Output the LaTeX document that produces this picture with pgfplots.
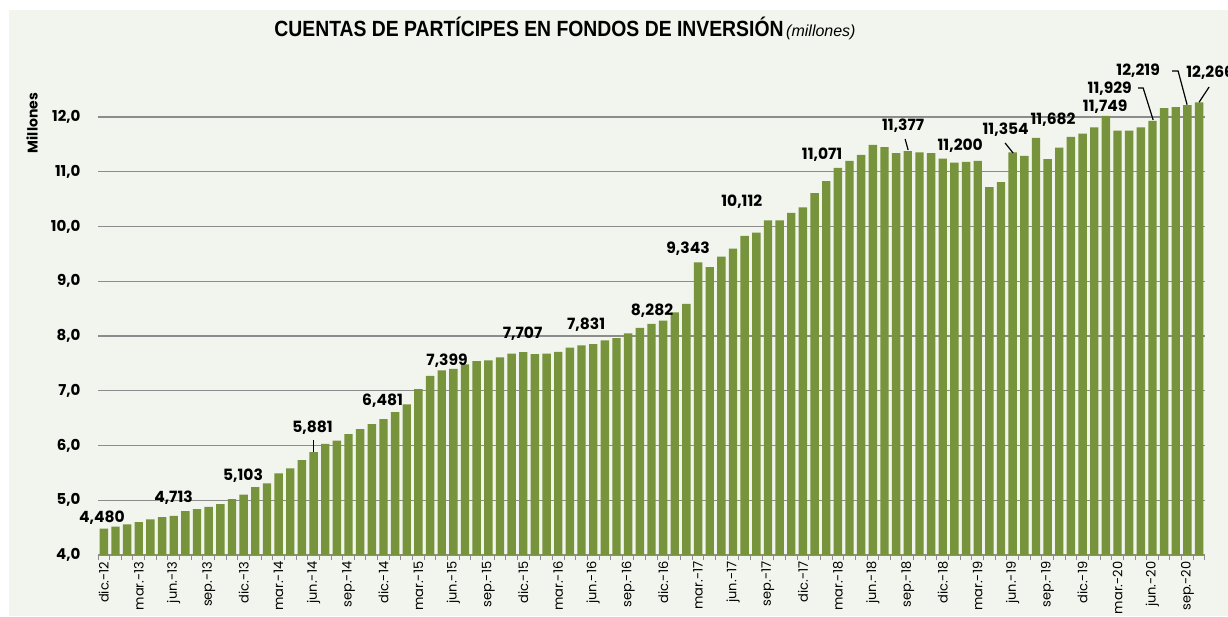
\documentclass[border=0pt]{standalone}
\usepackage{pgfplots}
\pgfplotsset{compat=1.18}
\usepackage{fontspec}
\setmainfont{Poppins}
\newfontfamily\titlefont[FakeStretch=0.88]{Liberation Sans}
\newfontfamily\titleit{Liberation Sans}
\definecolor{barc}{RGB}{119,147,60}
\definecolor{panel}{RGB}{242,245,237}
\definecolor{gridc}{RGB}{140,140,140}
\tikzset{lab/.style={font=\bfseries\fontsize{15.5}{15.5}\selectfont, inner sep=0pt}}
\begin{document}
\begin{tikzpicture}[x=1pt,y=1pt]
\fill[white] (0,0) rectangle (1228,616);
\fill[panel] (9,0) rectangle (1228,606);
\node[anchor=base] at (565,579) {{\titlefont\bfseries\fontsize{22}{22}\selectfont CUENTAS DE PARTÍCIPES EN FONDOS DE INVERSIÓN} {\titleit\itshape\fontsize{16}{16}\selectfont (millones)}};
\node[rotate=90, font=\bfseries\fontsize{14}{14}\selectfont] at (32,493) {Millones};
\begin{axis}[
  at={(98pt,61pt)}, anchor=south west,
  scale only axis, width=1107pt, height=492.75pt,
  xmin=-0.5, xmax=94.5, ymin=4, ymax=13,
  clip mode=individual,
  axis x line*=bottom, axis y line*=left,
  y axis line style={draw=none},
  x axis line style={draw=gridc, line width=1.3pt, -},
  ytick={4,5,...,12},
  ymajorgrids, grid style={draw=gridc, line width=1.3pt},
  major tick length=0pt,
  xtick={0,3,...,93},
  xticklabels={dic.-12,mar.-13,jun.-13,sep.-13,dic.-13,mar.-14,jun.-14,sep.-14,dic.-14,mar.-15,jun.-15,sep.-15,dic.-15,mar.-16,jun.-16,sep.-16,dic.-16,mar.-17,jun.-17,sep.-17,dic.-17,mar.-18,jun.-18,sep.-18,dic.-18,mar.-19,jun.-19,sep.-19,dic.-19,mar.-20,jun.-20,sep.-20},
  minor xtick={-0.5,0.5,...,94.5},
  minor tick length=5pt,
  minor tick style={draw=gridc, line width=1pt},
  tick align=outside,
  xticklabel style={yshift=-3pt, rotate=90, anchor=east, font=\fontsize{13}{13}\selectfont},
  yticklabel style={xshift=-14pt, font=\bfseries\fontsize{15}{15}\selectfont, /pgf/number format/fixed, /pgf/number format/fixed zerofill, /pgf/number format/precision=1, /pgf/number format/use comma},
  /pgf/number format/assume math mode=true,
]
\addplot[ybar, bar width=0.72, fill=barc, draw=none] coordinates {
(0,4.480) (1,4.517) (2,4.56) (3,4.60) (4,4.65) (5,4.69) (6,4.713) (7,4.80) (8,4.84) (9,4.88)
(10,4.93) (11,5.02) (12,5.103) (13,5.24) (14,5.31) (15,5.49) (16,5.58) (17,5.735) (18,5.881) (19,6.03)
(20,6.09) (21,6.21) (22,6.30) (23,6.39) (24,6.481) (25,6.61) (26,6.75) (27,7.03) (28,7.27) (29,7.37)
(30,7.399) (31,7.48) (32,7.54) (33,7.555) (34,7.61) (35,7.68) (36,7.707) (37,7.67) (38,7.68) (39,7.71)
(40,7.79) (41,7.831) (42,7.85) (43,7.92) (44,7.96) (45,8.05) (46,8.15) (47,8.22) (48,8.282) (49,8.43)
(50,8.585) (51,9.343) (52,9.26) (53,9.45) (54,9.595) (55,9.83) (56,9.89) (57,10.112) (58,10.11) (59,10.25)
(60,10.35) (61,10.61) (62,10.83) (63,11.071) (64,11.20) (65,11.31) (66,11.49) (67,11.45) (68,11.34) (69,11.377)
(70,11.355) (71,11.34) (72,11.24) (73,11.165) (74,11.18) (75,11.200) (76,10.72) (77,10.81) (78,11.354) (79,11.29)
(80,11.62) (81,11.23) (82,11.44) (83,11.635) (84,11.695) (85,11.81) (86,12.02) (87,11.75) (88,11.75) (89,11.81)
(90,11.929) (91,12.16) (92,12.18) (93,12.219) (94,12.266)
};
\node[lab, anchor=south] at (axis cs:-0.157,4.548) {4,480};
\node[lab, anchor=south] at (axis cs:5.98,4.913) {4,713};
\node[lab, anchor=south] at (axis cs:11.95,5.315) {5,103};
\node[lab, anchor=south] at (axis cs:17.91,6.192) {5,881};
\draw[black, line width=1.2pt] (axis cs:17.99,6.10) -- (axis cs:17.99,5.88);
\node[lab, anchor=south] at (axis cs:23.92,6.685) {6,481};
\node[lab, anchor=south] at (axis cs:29.46,7.416) {7,399};
\node[lab, anchor=south] at (axis cs:35.94,7.909) {7,707};
\node[lab, anchor=south] at (axis cs:41.39,8.073) {7,831};
\node[lab, anchor=south] at (axis cs:47.05,8.329) {8,282};
\node[lab, anchor=south] at (axis cs:50.14,9.461) {9,343};
\node[lab, anchor=south] at (axis cs:54.75,10.32) {10,112};
\node[lab, anchor=south] at (axis cs:61.65,11.178) {11,071};
\node[lab, anchor=south] at (axis cs:68.6,11.708) {11,377};
\draw[black, line width=1.2pt] (axis cs:68.77,11.598) -- (axis cs:69.03,11.397);
\node[lab, anchor=south] at (axis cs:73.5,11.342) {11,200};
\node[lab, anchor=south] at (axis cs:77.4,11.635) {11,354};
\draw[black, line width=1.2pt] (axis cs:77.35,11.525) -- (axis cs:78.04,11.342);
\node[lab, anchor=south] at (axis cs:81.47,11.817) {11,682};
\node[lab, anchor=south] at (axis cs:85.94,12.055) {11,749};
\node[lab, anchor=south] at (axis cs:86.33,12.384) {11,929};
\draw[black, line width=1.2pt] (axis cs:88.77,12.53) -- (axis cs:89.2,12.53) -- (axis cs:90.06,11.945);
\node[lab, anchor=south] at (axis cs:88.77,12.712) {12,219};
\draw[black, line width=1.2pt] (axis cs:91.69,12.84) -- (axis cs:92.2,12.84) -- (axis cs:92.97,12.225);
\node[lab, anchor=south west] at (axis cs:92.89,12.676) {12,266};
\draw[black, line width=1.2pt] (axis cs:94.86,12.548) -- (axis cs:94.0,12.27);
\end{axis}
\pgfresetboundingbox
\useasboundingbox (0,0) rectangle (1228,616);
\end{tikzpicture}
\end{document}
